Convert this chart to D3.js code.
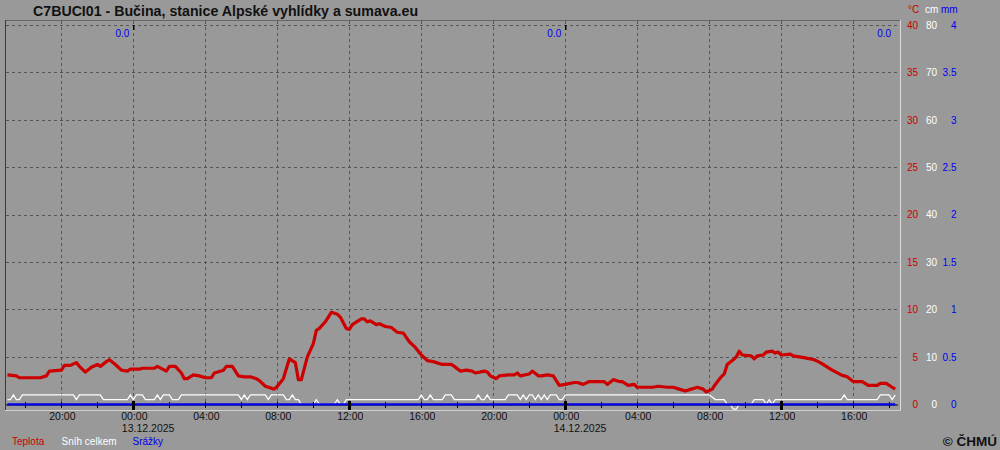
<!DOCTYPE html>
<html><head><meta charset="utf-8">
<script src="https://cdn.jsdelivr.net/npm/d3@7"></script>
<style>body{margin:0;background:#999999;} svg{display:block}</style>
</head><body><svg id="c" width="1000" height="450"></svg>
<script>
const chartTitle = "C7BUCI01 - Bučina, stanice Alpské vyhlídky a sumava.eu";

const tempTimes = [
"12.12 17:00","12.12 17:30","12.12 17:40","12.12 18:50","12.12 19:10","12.12 19:20","12.12 20:00","12.12 20:10","12.12 20:30","12.12 20:50",
"12.12 21:00","12.12 21:20","12.12 21:40","12.12 22:00","12.12 22:10","12.12 22:30","12.12 22:40","12.12 23:00","12.12 23:20","12.12 23:40",
"12.12 23:50","13.12 00:20","13.12 00:30","13.12 01:10","13.12 01:20","13.12 01:50","13.12 02:00","13.12 02:20","13.12 02:40","13.12 02:50",
"13.12 03:00","13.12 03:20","13.12 03:40","13.12 04:00","13.12 04:20","13.12 04:30","13.12 05:00","13.12 05:10","13.12 05:30","13.12 05:50",
"13.12 06:10","13.12 06:30","13.12 06:50","13.12 07:00","13.12 07:20","13.12 07:50","13.12 08:00","13.12 08:20","13.12 08:40","13.12 09:00",
"13.12 09:10","13.12 09:20","13.12 09:40","13.12 10:00","13.12 10:10","13.12 10:20","13.12 10:40","13.12 11:00","13.12 11:20","13.12 11:30",
"13.12 11:50","13.12 12:00","13.12 12:10","13.12 12:40","13.12 12:50","13.12 13:00","13.12 13:10","13.12 13:30","13.12 13:40","13.12 14:00",
"13.12 14:20","13.12 14:40","13.12 15:00","13.12 15:20","13.12 15:40","13.12 16:00","13.12 16:20","13.12 16:40","13.12 17:10","13.12 17:40",
"13.12 17:50","13.12 18:10","13.12 18:30","13.12 18:50","13.12 19:00","13.12 19:30","13.12 19:40","13.12 19:50","13.12 20:10","13.12 20:20",
"13.12 20:50","13.12 21:10","13.12 21:20","13.12 21:30","13.12 22:00","13.12 22:10","13.12 22:30","13.12 22:40","13.12 23:00","13.12 23:20",
"13.12 23:30","13.12 23:40","14.12 00:00","14.12 00:30","14.12 00:40","14.12 01:00","14.12 01:20","14.12 01:40","14.12 02:10","14.12 02:20",
"14.12 02:40","14.12 03:00","14.12 03:10","14.12 03:30","14.12 03:50","14.12 04:00","14.12 04:10","14.12 04:30","14.12 04:50","14.12 05:10",
"14.12 05:40","14.12 06:00","14.12 06:20","14.12 06:40","14.12 07:00","14.12 07:10","14.12 07:20","14.12 07:40","14.12 07:50","14.12 08:10",
"14.12 08:20","14.12 08:40","14.12 08:50","14.12 09:00","14.12 09:20","14.12 09:30","14.12 09:40","14.12 09:50","14.12 10:20","14.12 10:30",
"14.12 10:40","14.12 11:00","14.12 11:10","14.12 11:30","14.12 11:40","14.12 11:50","14.12 12:00","14.12 12:30","14.12 12:40","14.12 13:00",
"14.12 13:20","14.12 13:50","14.12 14:10","14.12 14:30","14.12 14:50","14.12 15:20","14.12 15:30","14.12 15:40","14.12 16:00","14.12 16:30",
"14.12 16:50","14.12 17:10","14.12 17:20","14.12 17:30","14.12 17:50","14.12 18:10","14.12 18:20"
];
const tempValues = [
3.1,3.0,2.8,2.8,3.0,3.5,3.6,4.1,4.1,4.4,
4.0,3.4,3.9,4.2,4.0,4.5,4.7,4.2,3.6,3.5,
3.7,3.7,3.8,3.8,4.0,3.5,4.0,4.0,3.3,2.7,
2.7,3.1,3.0,2.8,2.8,3.3,3.6,4.0,4.0,3.0,
2.9,2.9,2.7,2.5,1.9,1.6,1.9,2.7,4.8,4.4,
2.6,2.6,5.0,6.4,7.8,8.0,8.7,9.7,9.5,9.2,
8.0,7.9,8.4,9.0,9.0,8.7,8.8,8.4,8.5,8.2,
8.1,7.6,7.5,6.6,6.0,5.2,4.6,4.5,4.2,4.2,
4.0,3.5,3.6,3.5,3.3,3.5,3.4,3.0,2.7,3.0,
3.1,3.1,3.3,3.0,3.2,3.5,3.0,3.0,3.1,3.0,
2.5,2.0,2.1,2.3,2.3,2.1,2.4,2.4,2.4,2.1,
2.6,2.4,2.4,2.0,2.1,1.8,1.8,1.8,1.8,1.9,
1.8,1.8,1.6,1.4,1.6,1.7,1.8,1.6,1.3,1.6,
2.1,2.9,3.2,4.2,4.7,5.0,5.6,5.2,5.1,4.8,
5.1,5.2,5.5,5.6,5.4,5.5,5.2,5.3,5.1,5.0,
4.9,4.7,4.4,4.0,3.6,3.1,3.0,2.9,2.4,2.4,
2.0,2.0,2.0,2.2,2.2,1.8,1.6
];

const snowTimes = [
"12.12 17:00","12.12 17:10","12.12 17:20","12.12 17:30","12.12 17:40","12.12 17:50","12.12 20:40","12.12 20:50","12.12 21:00","12.12 22:10",
"12.12 22:20","12.12 23:40","12.12 23:50","13.12 00:00","13.12 00:10","13.12 00:30","13.12 00:40","13.12 01:10","13.12 01:20","13.12 01:30",
"13.12 01:40","13.12 02:00","13.12 02:10","13.12 02:30","13.12 02:40","13.12 05:50","13.12 06:00","13.12 06:10","13.12 06:20","13.12 06:30",
"13.12 07:20","13.12 07:30","13.12 07:40","13.12 08:20","13.12 08:30","13.12 08:40","13.12 08:50","13.12 09:00","13.12 09:10","13.12 09:20",
"13.12 10:00","13.12 10:10","13.12 10:20","13.12 11:10","13.12 11:20","13.12 11:30","13.12 11:40","13.12 11:50","13.12 15:50","13.12 16:00",
"13.12 16:10","13.12 16:20","13.12 16:30","13.12 16:40","13.12 17:10","13.12 17:20","13.12 17:40","13.12 17:50","13.12 19:00","13.12 19:10",
"13.12 19:20","13.12 19:30","13.12 19:40","13.12 19:50","13.12 20:40","13.12 20:50","13.12 21:20","13.12 21:30","13.12 21:40","13.12 21:50",
"13.12 22:00","13.12 22:10","13.12 22:20","13.12 22:30","13.12 22:40","13.12 22:50","13.12 23:00","13.12 23:10","13.12 23:30","13.12 23:40",
"13.12 23:50","14.12 00:00","14.12 08:00","14.12 08:20","14.12 08:50","14.12 09:00","14.12 09:10","14.12 09:20","14.12 09:30","14.12 09:40",
"14.12 10:20","14.12 10:30","14.12 11:00","14.12 11:10","14.12 11:20","14.12 11:30","14.12 11:40","14.12 15:20","14.12 15:30","14.12 15:40",
"14.12 17:20","14.12 17:30","14.12 18:00","14.12 18:10","14.12 18:20"
];
const snowValues = [
1,1,2,1,1,2,2,1,2,2,
1,1,2,1,2,2,1,1,2,1,
2,2,1,1,2,2,1,2,1,2,
2,1,2,2,1,1,2,1,1,0,
0,1,0,0,1,0,0,1,1,2,
1,1,2,1,1,2,2,1,1,2,
1,1,2,1,1,2,2,1,2,1,
2,2,1,2,1,2,1,2,2,1,
1,2,2,1,1,0,0,-1,-1,0,
0,1,1,0,1,0,1,1,2,1,
1,2,2,1,2
];

const precipTimes = ["12.12 17:00","14.12 18:20"];
const precipValues = [0, 0];

const dailyPrecipTimes = ["13.12 00:00","14.12 00:00","14.12 18:20"];
const dailyPrecipLabels = ["0.0","0.0","0.0"];

const tempTicks = [0,5,10,15,20,25,30,35,40];
const snowTicks = [0,10,20,30,40,50,60,70,80];
const precipTicks = [0,0.5,1,1.5,2,2.5,3,3.5,4];
const precipTickLabels = ["0","0.5","1","1.5","2","2.5","3","3.5","4"];

const legendLabels = ["Teplota","Sníh celkem","Srážky"];

function parseT(s){
  const [d,t] = s.split(" ");
  const [day,mon] = d.split(".").map(Number);
  const [h,m] = t.split(":").map(Number);
  return new Date(2025, mon-1, day, h, m);
}

const svg = d3.select("#c");
const FONT = "'Liberation Sans', Arial, sans-serif";
const C_RED = "#cc0000", C_BLUE = "#0000ee", C_WHITE = "#ffffff", C_GRID = "#555555";

const L = 5, R = 900, T = 20, B = 410;
const x = d3.scaleTime().domain([parseT("12.12 16:52"), parseT("14.12 18:36")]).range([L, R]);
const yT = d3.scaleLinear().domain([0,40]).range([404.3, 25]);
const yS = d3.scaleLinear().domain([0,80]).range([404.3, 25]);
const yP = d3.scaleLinear().domain([0,4]).range([404.3, 25]);

// Title
svg.append("text").attr("x", 33).attr("y", 16).attr("font-family", FONT)
  .attr("font-weight","bold").attr("font-size", 14.2).attr("fill","#111").text(chartTitle);

// Grid horizontal
svg.append("g").selectAll("line").data(tempTicks.filter(d=>d>0)).join("line")
  .attr("x1", L+1).attr("x2", R-1)
  .attr("y1", d=>Math.round(yT(d))+0.5).attr("y2", d=>Math.round(yT(d))+0.5)
  .attr("stroke", C_GRID).attr("stroke-dasharray","3,3").attr("stroke-width",1);

// Grid vertical every 4h
const [d0,d1] = x.domain();
const grid4 = d3.timeHour.every(4).range(d0, d1);
svg.append("g").selectAll("line").data(grid4).join("line")
  .attr("x1", d=>Math.round(x(d))+0.5).attr("x2", d=>Math.round(x(d))+0.5)
  .attr("y1", T+1).attr("y2", 404)
  .attr("stroke", C_GRID).attr("stroke-dasharray","3,3").attr("stroke-width",1);

// Frame
svg.append("line").attr("x1",L).attr("x2",R).attr("y1",T+0.5).attr("y2",T+0.5).attr("stroke","#666");
svg.append("line").attr("x1",L+0.5).attr("x2",L+0.5).attr("y1",T).attr("y2",B).attr("stroke","#3a3a3a");
svg.append("line").attr("x1",R+0.5).attr("x2",R+0.5).attr("y1",T).attr("y2",B+1).attr("stroke","#dcdcdc");
svg.append("line").attr("x1",L).attr("x2",R+1).attr("y1",B+0.5).attr("y2",B+0.5).attr("stroke","#d0d0d0");

// snow line (white)
const snowData = snowTimes.map((t,i)=>({t:parseT(t), v:snowValues[i]}));
svg.append("path").datum(snowData)
  .attr("d", d3.line().x(d=>x(d.t)).y(d=>yS(d.v)))
  .attr("fill","none").attr("stroke",C_WHITE).attr("stroke-width",1.2);

// axis baseline
svg.append("line").attr("x1",L+1).attr("x2",898).attr("y1",405).attr("y2",405).attr("stroke","#000").attr("stroke-width",1);

// precip line (blue)
const precipData = precipTimes.map((t,i)=>({t:parseT(t), v:precipValues[i]}));
svg.append("path").datum(precipData)
  .attr("d", d3.line().x(d=>x(d.t)).y(d=>yP(d.v)))
  .attr("fill","none").attr("stroke",C_BLUE).attr("stroke-width",2.2);

// ticks every 2h
const ticks2 = d3.timeHour.every(2).range(d0, d1);
const isMajor = d => d.getHours()===0 || d.getHours()===12;
svg.append("g").selectAll("rect").data(ticks2).join("rect")
  .attr("x", d=> isMajor(d) ? Math.round(x(d))-1 : Math.round(x(d)))
  .attr("width", d=> isMajor(d) ? 3 : 1)
  .attr("y", d=> isMajor(d) ? 401 : 402)
  .attr("height", d=> isMajor(d) ? 9 : 6)
  .attr("fill","#000");

// top ticks at midnights
const midnights = d3.timeDay.every(1).range(d0, d1);
svg.append("g").selectAll("rect").data(midnights).join("rect")
  .attr("x", d=>Math.round(x(d))).attr("width",1.5).attr("y",25).attr("height",5).attr("fill","#000");

// temperature line (red)
const tempData = tempTimes.map((t,i)=>({t:parseT(t), v:tempValues[i]}));
svg.append("path").datum(tempData)
  .attr("d", d3.line().x(d=>x(d.t)).y(d=>yT(d.v)))
  .attr("fill","none").attr("stroke",C_RED).attr("stroke-width",3.2).attr("stroke-linejoin","round");

// x labels
const fmtH = d3.timeFormat("%H:%M");
const fmtD = d3.timeFormat("%d.%m.%Y");
svg.append("g").selectAll("text").data(grid4).join("text")
  .attr("x", d=>x(d)+1).attr("y", 419.5).attr("text-anchor","middle")
  .attr("font-family", FONT).attr("font-size", 10.5).attr("fill","#111").text(fmtH);
svg.append("g").selectAll("text").data(midnights).join("text")
  .attr("x", d=>x(d)-11.5).attr("y", 431.5).attr("text-anchor","start")
  .attr("font-family", FONT).attr("font-size", 10.5).attr("fill","#111").text(fmtD);

// daily precip labels
svg.append("g").selectAll("text").data(dailyPrecipTimes).join("text")
  .attr("x", d=>x(parseT(d))-4).attr("y", 37).attr("text-anchor","end")
  .attr("font-family", FONT).attr("font-size", 10).attr("fill", C_BLUE)
  .text((d,i)=>dailyPrecipLabels[i]);

// right axes
const rAxis = (ticks, scale, xEnd, color, labels) => {
  svg.append("g").selectAll("text").data(ticks).join("text")
    .attr("x", xEnd).attr("y", d=>scale(d)+3.7).attr("text-anchor","end")
    .attr("font-family", FONT).attr("font-size", 10).attr("fill", color)
    .text((d,i)=> labels ? labels[i] : d);
};
rAxis(tempTicks, yT, 918, C_RED);
rAxis(snowTicks, yS, 937, C_WHITE);
rAxis(precipTicks, yP, 956.5, C_BLUE, precipTickLabels);
svg.append("text").attr("x",908).attr("y",13).attr("font-family",FONT).attr("font-size",10).attr("fill",C_RED).text("°C");
svg.append("text").attr("x",925).attr("y",13).attr("font-family",FONT).attr("font-size",10).attr("fill",C_WHITE).text("cm");
svg.append("text").attr("x",941).attr("y",13).attr("font-family",FONT).attr("font-size",10).attr("fill",C_BLUE).text("mm");

// legend
const legColors = [C_RED, C_WHITE, C_BLUE];
const legX = [12, 61.5, 132.5];
svg.append("g").selectAll("text").data(legendLabels).join("text")
  .attr("x",(d,i)=>legX[i]).attr("y",445).attr("font-family",FONT).attr("font-size",10)
  .attr("fill",(d,i)=>legColors[i]).text(d=>d);

// copyright
svg.append("text").attr("x",997).attr("y",446).attr("text-anchor","end").attr("font-family",FONT)
  .attr("font-weight","bold").attr("font-size",13.5).attr("fill","#111").text("© ČHMÚ");
</script>
</body></html>
